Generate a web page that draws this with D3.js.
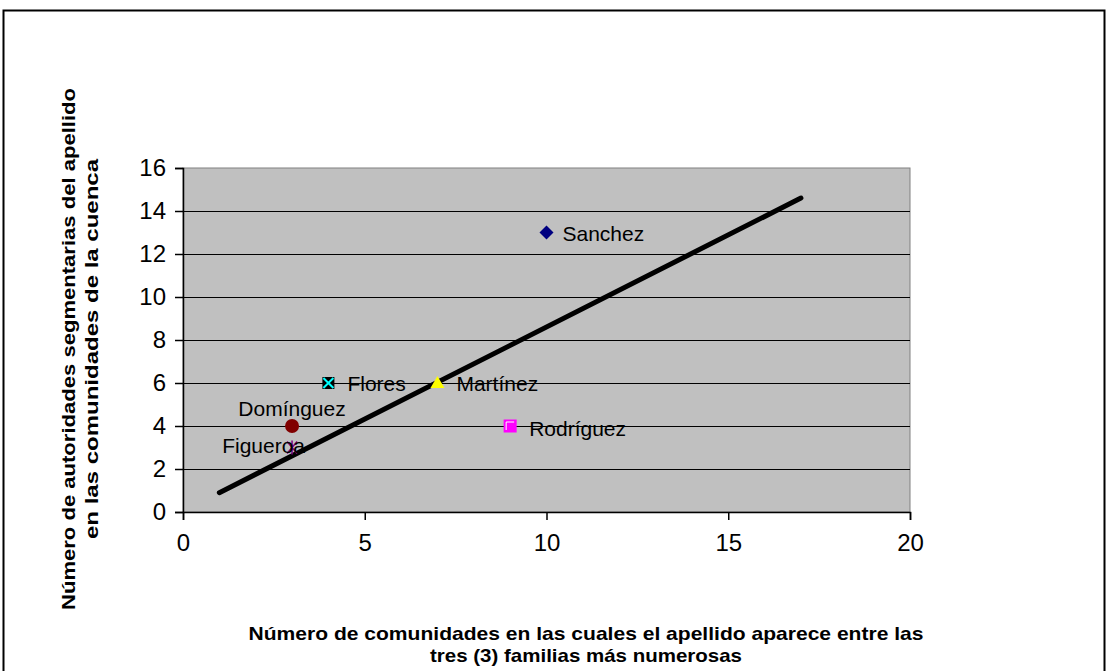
<!DOCTYPE html>
<html><head><meta charset="utf-8">
<script src="https://cdn.jsdelivr.net/npm/d3@7"></script>
<style>body{margin:0;background:#fff}svg{display:block}text{font-family:"Liberation Sans",Arial,sans-serif}</style>
</head><body><svg id="c" width="1108" height="671"></svg>
<script>
const names = ["Sanchez","Rodríguez","Martínez","Flores","Domínguez","Figueroa"];
const xVals = [10,9,7,4,3,3];
const yVals = [13,4,6,6,4,3];
const xTicks = [0,5,10,15,20];
const yTicks = [0,2,4,6,8,10,12,14,16];
const trendX = [1,17];
const trendY = [0.9,14.6];
const yTitle = ["Número de autoridades segmentarias del apellido","en las comunidades de la cuenca"];
const xTitle = ["Número de comunidades en las cuales el apellido aparece entre las","tres (3) familias más numerosas"];

const svg = d3.select("#c");
svg.append("rect").attr("x",3.5).attr("y",10.5).attr("width",1101).attr("height",680).attr("fill","none").attr("stroke","#000").attr("stroke-width",2);

const x = d3.scaleLinear().domain([0,20]).range([183,910]);
const y = d3.scaleLinear().domain([0,16]).range([512,168]);

svg.append("rect").attr("x",x(0)).attr("y",y(16)).attr("width",x(20)-x(0)).attr("height",y(0)-y(16)).attr("fill","#C0C0C0").attr("stroke","#808080").attr("stroke-width",1);

svg.append("g").selectAll("line").data(yTicks.filter(d=>d>0 && d<16)).join("line")
  .attr("x1",x(0)).attr("x2",x(20)).attr("y1",d=>Math.round(y(d))+0.5).attr("y2",d=>Math.round(y(d))+0.5)
  .attr("stroke","#000").attr("stroke-width",1);

const xAxis = svg.append("g").attr("transform",`translate(0,${y(0)})`)
  .call(d3.axisBottom(x).tickValues(xTicks).tickSize(8).tickPadding(14).tickFormat(d3.format("d")));
const yAxis = svg.append("g").attr("transform",`translate(${x(0)},0)`)
  .call(d3.axisLeft(y).tickValues(yTicks).tickSize(8).tickPadding(9).tickFormat(d3.format("d")));
[xAxis,yAxis].forEach(a=>{
  a.selectAll("text").attr("font-size",24).attr("fill","#000").attr("font-family","Liberation Sans, Arial, sans-serif");
  a.selectAll("line").attr("stroke","#000").attr("stroke-width",1.5);
  a.select(".domain").attr("stroke","#000").attr("stroke-width",1.5);
});

// trend line
svg.append("line").attr("x1",x(trendX[0])).attr("y1",y(trendY[0])).attr("x2",x(trendX[1])).attr("y2",y(trendY[1]))
  .attr("stroke","#000").attr("stroke-width",5).attr("stroke-linecap","round");

// markers
const g = svg.append("g");
function marker(i){
  const cx=x(xVals[i]), cy=y(yVals[i]);
  const n=names[i];
  if(n==="Sanchez"){
    g.append("path").attr("d",`M${cx},${cy-7}L${cx+7},${cy}L${cx},${cy+7}L${cx-7},${cy}Z`).attr("fill","#000080");
  } else if(n==="Rodríguez"){
    g.append("rect").attr("x",cx-6.5).attr("y",cy-6.5).attr("width",13).attr("height",13).attr("fill","#FF00FF");
    g.append("path").attr("d",`M${cx-4},${cy+4}V${cy-4}H${cx+4}`).attr("fill","none").attr("stroke","#fff").attr("stroke-width",1);
  } else if(n==="Martínez"){
    g.append("path").attr("d",`M${cx},${cy-7}L${cx+7},${cy+5}L${cx-7},${cy+5}Z`).attr("fill","#FFFF00");
  } else if(n==="Flores"){
    g.append("rect").attr("x",cx-6).attr("y",cy-6).attr("width",12).attr("height",12).attr("fill","#000");
    g.append("path").attr("d",`M${cx-5},${cy-5}L${cx+5},${cy+5}M${cx+5},${cy-5}L${cx-5},${cy+5}`).attr("stroke","#00FFFF").attr("stroke-width",2);
  } else if(n==="Domínguez"){
    g.append("circle").attr("cx",cx).attr("cy",cy).attr("r",7).attr("fill","#800000");
  } else {
    g.append("path").attr("d",`M${cx-5},${cy-6}L${cx+5},${cy+6}M${cx+5},${cy-6}L${cx-5},${cy+6}M${cx},${cy-7}V${cy+7}`).attr("stroke","#800080").attr("stroke-width",1.5);
  }
}
names.forEach((n,i)=>marker(i));

// labels
const lab = {
  "Sanchez":{dx:16,dy:8,anchor:"start"},
  "Rodríguez":{dx:19,dy:10,anchor:"start"},
  "Martínez":{dx:19,dy:8,anchor:"start"},
  "Flores":{dx:19,dy:8,anchor:"start"},
  "Domínguez":{dx:0,dy:-10,anchor:"middle"},
  "Figueroa":{dx:13,dy:5,anchor:"end"}
};
svg.append("g").selectAll("text").data(names).join("text")
  .attr("x",(d,i)=>x(xVals[i])+lab[d].dx).attr("y",(d,i)=>y(yVals[i])+lab[d].dy)
  .attr("text-anchor",d=>lab[d].anchor).attr("font-size",21).attr("fill","#000").text(d=>d);

// axis titles
const yt = svg.append("text").attr("transform","translate(75,349) rotate(-90)").attr("text-anchor","middle")
  .attr("font-size",19).attr("font-weight","bold");
yt.selectAll("tspan").data(yTitle).join("tspan").attr("x",0).attr("y",(d,i)=>i*23)
  .attr("textLength",(d,i)=>i===0?522:380).attr("lengthAdjust","spacingAndGlyphs").text(d=>d);
const xt = svg.append("text").attr("text-anchor","middle").attr("font-size",19).attr("font-weight","bold");
xt.selectAll("tspan").data(xTitle).join("tspan").attr("x",586).attr("y",(d,i)=>640+i*22)
  .attr("textLength",(d,i)=>i===0?675:312).attr("lengthAdjust","spacingAndGlyphs").text(d=>d);
</script></body></html>
